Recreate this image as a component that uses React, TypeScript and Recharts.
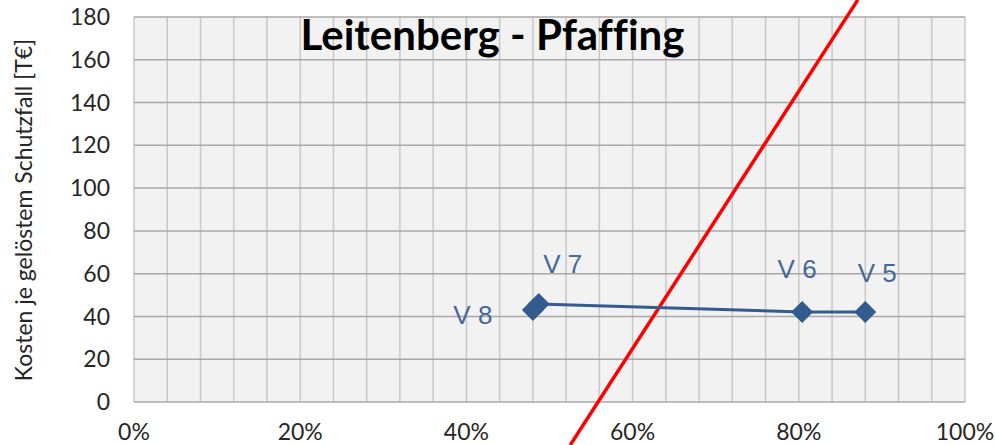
import React from "react";
import {
	LineChart,
	Line,
	XAxis,
	YAxis,
	CartesianGrid,
	ReferenceLine,
	LabelList,
	Label,
} from "recharts";

// variant points (x = share in %, y = cost in T€)
const variantNames = ["V 8", "V 7", "V 6", "V 5"];
const variantShare = [48.0, 48.7, 80.4, 88.0];
const variantCost = [43.0, 45.8, 42.1, 42.1];

// red limit line, two points on it
const limitShare = [52.5, 87.1];
const limitCost = [-20.1, 188.0];

const xTicks = [0, 4, 8, 12, 16, 20, 24, 28, 32, 36, 40, 44, 48, 52, 56, 60, 64, 68, 72, 76, 80, 84, 88, 92, 96, 100];
const xLabelTicks = [0, 20, 40, 60, 80, 100];
const yTicks = [0, 20, 40, 60, 80, 100, 120, 140, 160, 180];

const data = variantNames.map((name, i) => ({
	name,
	x: variantShare[i],
	y: variantCost[i],
}));

const FONT = "Lato, 'Open Sans', sans-serif";
const BLUE = "#335b8e";

const Diamond = (props: any) => {
	const { cx, cy } = props;
	if (cx == null || cy == null) return null;
	const r = 11;
	return (
		<polygon
			points={`${cx},${cy - r} ${cx + r},${cy} ${cx},${cy + r} ${cx - r},${cy}`}
			fill={BLUE}
		/>
	);
};

// label offsets per point (relative to the marker)
const labelShift: Record<string, [number, number]> = {
	"V 8": [-60, 5],
	"V 7": [24, -40],
	"V 6": [-5, -43],
	"V 5": [12, -39],
};

const PointLabel = (props: any) => {
	const { x, y, value } = props;
	const [dx, dy] = labelShift[value] || [0, -30];
	return (
		<text
			x={x + dx}
			y={y + dy}
			textAnchor='middle'
			dominantBaseline='central'
			fill='#44689a'
			fontSize={26}
			fontFamily="'Liberation Sans', Arial, sans-serif">
			{value}
		</text>
	);
};

export default function App() {
	return (
		<div
			style={{
				position: "absolute",
				left: 0,
				top: 0,
				width: 995,
				height: 445,
				background: "#fff",
				fontFamily: FONT,
			}}>
			<LineChart
				width={995}
				height={445}
				data={data}
				margin={{ top: 17, right: 30, bottom: 0, left: 0 }}>
				<CartesianGrid
					horizontal={false}
					stroke='#c8c8c8'
					strokeWidth={1.5}
					fill='#f2f2f2'
					fillOpacity={1}
				/>
				<CartesianGrid vertical={false} stroke='#a8a8a8' strokeWidth={1.5} />
				<XAxis
					type='number'
					dataKey='x'
					domain={[0, 100]}
					ticks={xTicks}
					interval={0}
					tickFormatter={(v: number) => (xLabelTicks.includes(v) ? `${v}%` : "")}
					tickLine={false}
					axisLine={false}
					height={43}
					tickMargin={16}
					tick={{ fill: "#262626", fontSize: 23, fontFamily: FONT }}
				/>
				<YAxis
					type='number'
					domain={[0, 180]}
					ticks={yTicks}
					interval={0}
					tickLine={false}
					axisLine={false}
					width={134}
					tickMargin={18}
					tick={{ fill: "#262626", fontSize: 23, fontFamily: FONT }}>
					<Label
						content={() => (
							<text
								x={23}
								y={210}
								transform='rotate(-90 23 210)'
								textAnchor='middle'
								dominantBaseline='central'
								fill='#262626'
								fontSize={23}
								fontFamily={FONT}>
								Kosten je gelöstem Schutzfall [T€]
							</text>
						)}
					/>
				</YAxis>
				<ReferenceLine
					segment={[
						{ x: limitShare[0], y: limitCost[0] },
						{ x: limitShare[1], y: limitCost[1] },
					]}
					stroke='#ff0000'
					strokeWidth={3.5}
					ifOverflow='visible'
				/>
				<Line
					type='linear'
					dataKey='y'
					stroke={BLUE}
					strokeWidth={3}
					dot={<Diamond />}
					activeDot={false}
					isAnimationActive={false}>
					<LabelList dataKey='name' content={<PointLabel />} />
				</Line>
			</LineChart>
			<div
				style={{
					position: "absolute",
					left: 0,
					width: 985,
					top: 10,
					textAlign: "center",
					fontWeight: 700,
					fontSize: 42,
					lineHeight: "48px",
					color: "#000",
					fontFamily: FONT,
					fontVariantLigatures: "none",
				}}>
				Leitenberg - Pfaffing
			</div>
		</div>
	);
}
